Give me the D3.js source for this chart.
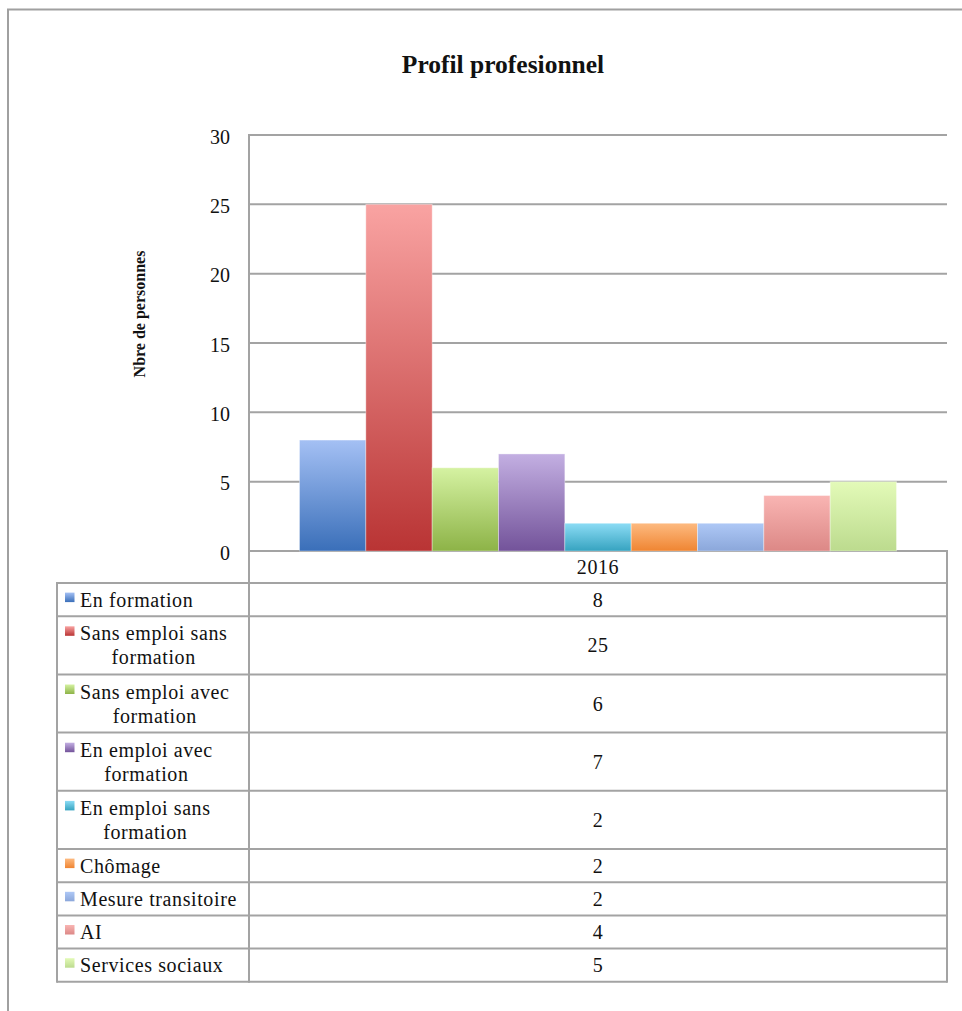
<!DOCTYPE html>
<html>
<head>
<meta charset="utf-8">
<script src="https://cdn.jsdelivr.net/npm/d3@7"></script>
<style>
  html, body { margin: 0; padding: 0; background: #fff; }
  svg { display: block; }
</style>
</head>
<body>
<svg id="chart" width="962" height="1011"></svg>
<script>
// ---- Data ----
const title = "Profil profesionnel";
const yLabel = "Nbre de personnes";
const years = ["2016"];
const categories = [
  "En formation",
  "Sans emploi sans formation",
  "Sans emploi avec formation",
  "En emploi avec formation",
  "En emploi sans formation",
  "Chômage",
  "Mesure transitoire",
  "AI",
  "Services sociaux"
];
const legendLines = [
  ["En formation"],
  ["Sans emploi sans", "formation"],
  ["Sans emploi avec", "formation"],
  ["En emploi avec", "formation"],
  ["En emploi sans", "formation"],
  ["Chômage"],
  ["Mesure transitoire"],
  ["AI"],
  ["Services sociaux"]
];
const values2016 = [8, 25, 6, 7, 2, 2, 2, 4, 5];
const yTicks = [0, 5, 10, 15, 20, 25, 30];
const colorTop = ["#a4c0f4", "#f9a3a2", "#d5f2a2", "#c3afe2", "#8cdcf5", "#fdba80", "#aec8f6", "#f9b5b3", "#e3fab8"];
const colorBottom = ["#3a6fb9", "#b93434", "#8db347", "#73539a", "#36a3c0", "#ef8532", "#8ba7da", "#dc8886", "#bcdb8e"];

// ---- Layout ----
const svg = d3.select("#chart");
const bodyFont = "'Liberation Serif', serif";
const bodySize = "20px";
const bodySpacing = "0.6px";
const plotL = 249, plotR = 947, plotT = 135, plotB = 551;
const tableL = 57, headerB = 583;
const lineColor = "#a3a3a3";

function bodyText(sel) {
  return sel.style("font-family", bodyFont).style("font-size", bodySize)
    .style("letter-spacing", bodySpacing).attr("fill", "#111");
}

const defs = svg.append("defs");
categories.forEach((c, i) => {
  const g = defs.append("linearGradient").attr("id", "grad" + i)
    .attr("x1", 0).attr("y1", 0).attr("x2", 0).attr("y2", 1);
  g.append("stop").attr("offset", "0%").attr("stop-color", colorTop[i]);
  g.append("stop").attr("offset", "100%").attr("stop-color", colorBottom[i]);
});

// outer frame
svg.append("rect").attr("x", 8).attr("y", 9.5).attr("width", 1000).attr("height", 1100)
  .attr("fill", "none").attr("stroke", "#a0a0a0").attr("stroke-width", 2);

// title
svg.append("text").attr("x", 503).attr("y", 73).attr("text-anchor", "middle")
  .style("font-family", "'Liberation Serif', serif").style("font-weight", "bold")
  .style("font-size", "25.5px").attr("fill", "#111").text(title);

// scales
const y = d3.scaleLinear().domain([0, 30]).range([plotB, plotT]);
const x0 = d3.scaleBand().domain(years).range([plotL, plotR]).paddingInner(0).paddingOuter(0.0846);
const x1 = d3.scaleBand().domain(categories).range([0, x0.bandwidth()]).padding(0);

// gridlines
svg.append("g").selectAll("line").data(yTicks).join("line")
  .attr("x1", plotL).attr("x2", plotR)
  .attr("y1", d => y(d)).attr("y2", d => y(d))
  .attr("stroke", lineColor).attr("stroke-width", 2);

// y tick labels via axis
const yAxis = d3.axisLeft(y).tickValues(yTicks).tickSize(0).tickPadding(0);
const ya = svg.append("g").attr("transform", `translate(${plotL - 19},0)`).call(yAxis);
ya.select(".domain").remove();
ya.selectAll("text").style("font-family", bodyFont).style("font-size", bodySize)
  .attr("fill", "#111").attr("dy", "0.4em");

// y label
svg.append("text").attr("transform", `translate(145,314) rotate(-90)`)
  .attr("text-anchor", "middle")
  .style("font-family", "'Liberation Serif', serif").style("font-weight", "bold").style("font-size", "16px")
  .attr("fill", "#111").text(yLabel);

// bars
const gBars = svg.append("g");
years.forEach(yr => {
  gBars.selectAll("rect.bar").data(categories.map((c, i) => ({ c, i, v: values2016[i] })))
    .join("rect").attr("class", "bar")
    .attr("x", d => x0(yr) + x1(d.c))
    .attr("y", d => y(d.v))
    .attr("width", x1.bandwidth())
    .attr("height", d => y(0) - y(d.v))
    .attr("fill", d => `url(#grad${d.i})`)
    .attr("stroke", "rgba(255,255,255,0.35)").attr("stroke-width", 1);
});

// table
const rowHeights = legendLines.map(l => l.length === 1 ? 33.2 : 58.2);
const rowTops = [];
let acc = headerB;
rowHeights.forEach(h => { rowTops.push(acc); acc += h; });
const tableB = acc;
const gT = svg.append("g");

// header text
bodyText(gT.append("text").attr("x", (plotL + plotR) / 2).attr("y", (plotB + headerB) / 2 + 6.5)
  .attr("text-anchor", "middle")).text(years[0]);

// horizontal lines
const hLines = [headerB].concat(rowTops.map((t, i) => t + rowHeights[i]));
gT.selectAll("line.h").data(hLines).join("line").attr("class", "h")
  .attr("x1", tableL).attr("x2", plotR).attr("y1", d => d).attr("y2", d => d)
  .attr("stroke", lineColor).attr("stroke-width", 2);
// vertical lines
gT.append("line").attr("x1", plotL).attr("x2", plotL).attr("y1", plotT - 1).attr("y2", tableB + 1)
  .attr("stroke", lineColor).attr("stroke-width", 2);
gT.append("line").attr("x1", tableL).attr("x2", tableL).attr("y1", headerB - 1).attr("y2", tableB + 1)
  .attr("stroke", lineColor).attr("stroke-width", 2);
gT.append("line").attr("x1", plotR).attr("x2", plotR).attr("y1", plotB - 1).attr("y2", tableB + 1)
  .attr("stroke", lineColor).attr("stroke-width", 2);

// rows
legendLines.forEach((lines, i) => {
  const top = rowTops[i], h = rowHeights[i];
  const lh = 24;
  const firstBase = top + h / 2 - (lines.length - 1) * lh / 2 + 7;
  const textX = 80;
  const g = gT.append("g");
  const texts = lines.map((ln, k) => bodyText(g.append("text").attr("y", firstBase + k * lh)).text(ln));
  const widths = texts.map(t => t.node().getComputedTextLength());
  const maxW = d3.max(widths);
  texts.forEach((t, k) => {
    if (lines.length === 1) t.attr("x", textX);
    else t.attr("x", textX + (maxW - widths[k]) / 2);
  });
  g.append("rect").attr("x", 65).attr("y", firstBase - 14).attr("width", 9.5).attr("height", 9.5)
    .attr("fill", `url(#grad${i})`);
  bodyText(gT.append("text").attr("x", (plotL + plotR) / 2).attr("y", top + h / 2 + 7)
    .attr("text-anchor", "middle")).text(values2016[i]);
});
</script>
</body>
</html>
